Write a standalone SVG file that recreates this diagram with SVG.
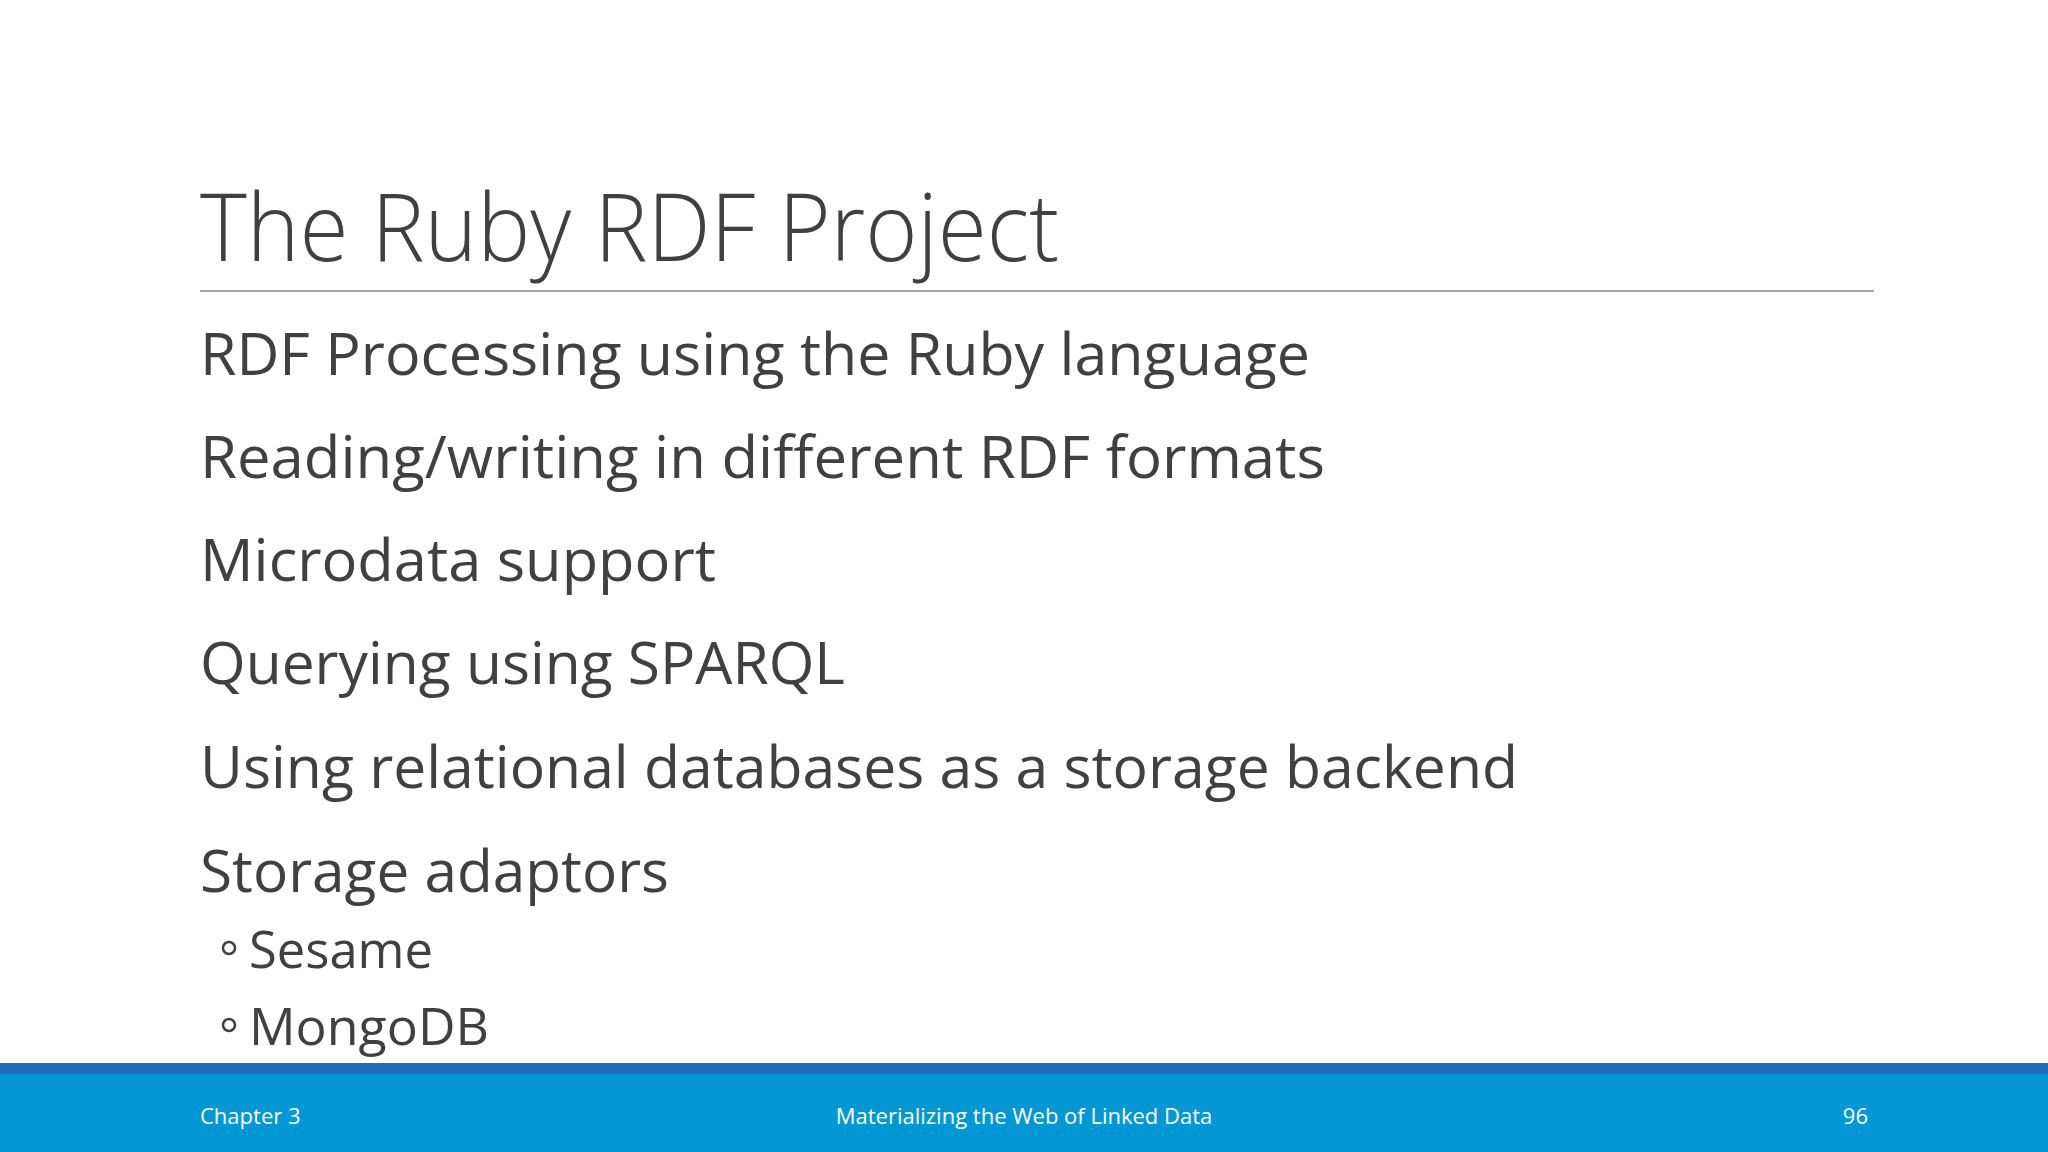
<svg xmlns="http://www.w3.org/2000/svg" width="2048" height="1152" viewBox="0 0 2048 1152">
<style>
.t{font-family:"Open Sans","Liberation Sans",sans-serif;fill:#404040}
.b{font-size:58px}
.s{font-size:52px}
.f{font-family:"Open Sans","Liberation Sans",sans-serif;fill:#ffffff;font-size:22px}
</style>
<rect width="2048" height="1152" fill="#ffffff"/>
<g id="title">
<text class="t" x="200" y="261" font-size="94" font-weight="300" textLength="859" lengthAdjust="spacingAndGlyphs">The Ruby RDF Project</text>
<line x1="200" y1="291" x2="1874" y2="291" stroke="#a6a6a6" stroke-width="2"/>
</g>
<g id="bullets">
<text class="t b" x="200" y="375" textLength="1110" lengthAdjust="spacingAndGlyphs">RDF Processing using the Ruby language</text>
<text class="t b" x="200" y="478" textLength="1125" lengthAdjust="spacingAndGlyphs">Reading/writing in different RDF formats</text>
<text class="t b" x="200" y="581" textLength="516" lengthAdjust="spacingAndGlyphs">Microdata support</text>
<text class="t b" x="200" y="684" textLength="645" lengthAdjust="spacingAndGlyphs">Querying using SPARQL</text>
<text class="t b" x="200" y="788" textLength="1318" lengthAdjust="spacingAndGlyphs">Using relational databases as a storage backend</text>
<text class="t b" x="200" y="892" textLength="469" lengthAdjust="spacingAndGlyphs">Storage adaptors</text>
<circle cx="229" cy="948" r="6" fill="none" stroke="#404040" stroke-width="2.5"/>
<text class="t s" x="249" y="968" textLength="184" lengthAdjust="spacingAndGlyphs">Sesame</text>
<circle cx="229" cy="1025" r="6" fill="none" stroke="#404040" stroke-width="2.5"/>
<text class="t s" x="249" y="1045" textLength="240" lengthAdjust="spacingAndGlyphs">MongoDB</text>
</g>
<g id="footer">
<rect x="0" y="1063" width="2048" height="11" fill="#1f6cc0"/>
<rect x="0" y="1074" width="2048" height="78" fill="#0397d6"/>
<text class="f" x="200" y="1124">Chapter 3</text>
<text class="f" x="1024" y="1124" text-anchor="middle">Materializing the Web of Linked Data</text>
<text class="f" x="1868" y="1124" text-anchor="end">96</text>
</g>
</svg>
